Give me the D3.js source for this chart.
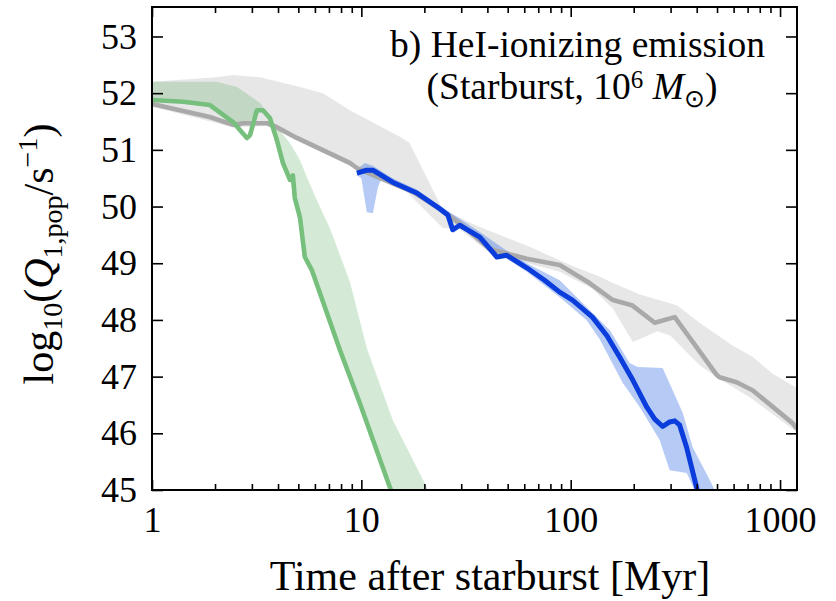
<!DOCTYPE html>
<html>
<head>
<meta charset="utf-8">
<script src="https://cdn.jsdelivr.net/npm/d3@7"></script>
<style>
  html, body { margin: 0; padding: 0; background: #fff; }
  svg text { font-family: "Liberation Serif", "Times New Roman", Times, serif; fill: #000; }
</style>
</head>
<body>
<svg id="chart" width="836" height="601"></svg>
<script>
// ---------- data (time in Myr, log10 Q) ----------
const xMajorTicks = [1, 10, 100, 1000];
const xMinorTicks = [2,3,4,5,6,7,8,9,20,30,40,50,60,70,80,90,200,300,400,500,600,700,800,900];
const yTicks = [45, 46, 47, 48, 49, 50, 51, 52, 53];

// gray (reference) model
const grayT    = [1, 1.36, 1.89, 2.44, 2.72, 3.54, 3.95, 4.92, 8.81, 9.52, 12.3, 17.6, 23.7, 29.5, 41.1, 61.7, 88.6, 123, 159, 196, 252, 314, 498, 514, 620, 739, 1147, 1205];
const grayV    = [51.81, 51.70, 51.58, 51.44, 51.47, 51.47, 51.40, 51.21, 50.77, 50.68, 50.50, 50.26, 49.96, 49.70, 49.25, 49.08, 48.97, 48.65, 48.35, 48.26, 47.95, 48.05, 47.03, 46.99, 46.90, 46.76, 46.18, 46.08];
const grayHiT  = [1, 2.04, 2.44, 3.28, 5.09, 6.55, 8.81, 15.27, 17.0, 24.5, 36.8, 63.7, 102, 138, 159, 214, 321, 413, 593, 739, 921, 1205];
const grayHiV  = [52.20, 52.28, 52.32, 52.28, 52.11, 52.00, 51.70, 51.23, 51.12, 49.94, 49.64, 49.29, 48.95, 48.76, 48.65, 48.45, 48.26, 47.95, 47.55, 47.35, 47.05, 46.80];
const grayLoT  = [1, 2.44, 3.54, 8.81, 15.3, 17.6, 24.5, 29.5, 41.1, 88.6, 127, 159, 198, 260, 300, 413, 498, 593, 739, 1205];
const grayLoV  = [51.76, 51.40, 51.42, 50.72, 50.38, 50.15, 49.62, 49.60, 49.18, 48.85, 48.55, 48.20, 47.61, 47.80, 47.72, 47.20, 46.99, 46.82, 46.60, 46.02];

// green model
const greenT   = [1, 1.41, 1.89, 2.44, 2.63, 2.84, 2.94, 3.17, 3.39, 3.66, 3.95, 4.22, 4.56, 4.71, 4.81, 5.09, 5.37, 5.80, 7.90, 9.84, 13.68, 15.0];
const greenV   = [51.88, 51.85, 51.79, 51.49, 51.35, 51.21, 51.26, 51.70, 51.70, 51.56, 51.17, 50.77, 50.47, 50.55, 50.15, 49.81, 49.11, 48.88, 47.47, 46.53, 45.05, 44.70];
const greenHiT = [1, 2.04, 2.55, 3.28, 3.95, 4.56, 5.09, 5.49, 6.13, 7.07, 8.81, 10.62, 14.14, 20.54, 22.0];
const greenHiV = [52.20, 52.20, 52.11, 51.83, 51.40, 51.12, 50.82, 50.52, 50.11, 49.62, 48.68, 47.50, 46.23, 45.05, 44.80];
const greenLoT = [1, 1.89, 2.44, 2.84, 3.17, 3.39, 3.66, 3.95, 4.22, 4.56, 5.09, 5.37, 5.80, 7.90, 9.84, 13.68, 15.0];
const greenLoV = [51.88, 51.79, 51.49, 51.44, 51.65, 51.68, 51.56, 51.17, 50.77, 50.47, 49.81, 49.11, 48.88, 47.47, 46.53, 45.05, 44.70];

// blue model
const blueT    = [9.52, 10.6, 11.4, 14.1, 18.4, 23.7, 25.9, 27.3, 29.5, 36.8, 44.4, 49.5, 61.7, 75, 88.6, 102, 127, 149, 171, 198, 231, 252, 275, 297, 314, 331, 358, 399, 420];
const blueV    = [50.59, 50.64, 50.64, 50.43, 50.24, 49.96, 49.85, 49.59, 49.67, 49.46, 49.11, 49.14, 48.92, 48.70, 48.49, 48.35, 48.05, 47.72, 47.35, 46.94, 46.46, 46.25, 46.12, 46.20, 46.22, 46.15, 45.75, 45.05, 44.70];
const blueHiT  = [9.52, 10.4, 11.35, 14.1, 18.4, 25.9, 36.8, 49.5, 61.7, 88.6, 119, 154, 191, 209, 275, 307, 343, 382, 461, 487];
const blueHiV  = [50.66, 50.77, 50.72, 50.50, 50.30, 49.92, 49.55, 49.22, 49.00, 48.70, 48.23, 47.82, 47.24, 47.17, 47.15, 46.76, 46.36, 45.76, 45.18, 45.00];
const blueLoT  = [9.52, 10.0, 10.62, 11.35, 12.0, 12.5, 14.1, 18.4, 25.9, 36.8, 49.5, 61.7, 88.6, 119, 138, 177, 214, 266, 297, 358, 391, 400];
const blueLoV  = [50.55, 50.50, 49.90, 49.88, 50.34, 50.50, 50.38, 50.19, 49.80, 49.40, 49.08, 48.85, 48.40, 48.00, 47.65, 46.89, 46.46, 45.88, 45.35, 45.30, 45.00, 44.90];

// ---------- layout ----------
const W = 836, H = 601;
const FONT = '"Liberation Serif", "Times New Roman", Times, serif';
const margin = { left: 152, top: 7, right: 39, bottom: 111 };
const iw = W - margin.left - margin.right;
const ih = H - margin.top - margin.bottom;

const svg = d3.select("#chart");
const g = svg.append("g").attr("transform", `translate(${margin.left},${margin.top})`);

const x = d3.scaleLog().domain([1, 1205]).range([0, iw]);
const y = d3.scaleLinear().domain([45, 53.52]).range([ih, 0]);

svg.append("defs").append("clipPath").attr("id", "clip")
  .append("rect").attr("width", iw).attr("height", ih);

const plot = g.append("g").attr("clip-path", "url(#clip)");

const zip = (ts, vs) => ts.map((t, i) => [t, vs[i]]);
const lineGen = d3.line().x(d => x(d[0])).y(d => y(d[1]));
const band = (hiT, hiV, loT, loV) => lineGen(zip(hiT, hiV).concat(zip(loT, loV).reverse())) + "Z";

// bands
plot.append("path").attr("d", band(grayHiT, grayHiV, grayLoT, grayLoV))
  .attr("fill", "rgb(160,160,160)").attr("fill-opacity", 0.25).attr("stroke", "none");
plot.append("path").attr("d", band(greenHiT, greenHiV, greenLoT, greenLoV))
  .attr("fill", "rgb(90,175,95)").attr("fill-opacity", 0.26).attr("stroke", "none");
plot.append("path").attr("d", band(blueHiT, blueHiV, blueLoT, blueLoV))
  .attr("fill", "rgb(40,100,230)").attr("fill-opacity", 0.34).attr("stroke", "none");

// lines
plot.append("path").attr("d", lineGen(zip(grayT, grayV)))
  .attr("fill", "none").attr("stroke", "#a9a9a9").attr("stroke-width", 4.6).attr("stroke-linejoin", "round");
plot.append("path").attr("d", lineGen(zip(greenT, greenV)))
  .attr("fill", "none").attr("stroke", "#76bf7c").attr("stroke-width", 4.6).attr("stroke-linejoin", "round");
plot.append("path").attr("d", lineGen(zip(blueT, blueV)))
  .attr("fill", "none").attr("stroke", "#0a3ddb").attr("stroke-width", 5).attr("stroke-linejoin", "round");

// ---------- axes ----------
const tickFont = 36;
const styleAxis = sel => {
  sel.attr("font-family", FONT);
  sel.select(".domain").remove();
  sel.selectAll(".tick line").attr("stroke", "#000").attr("stroke-width", 1.6);
  sel.selectAll("text").attr("font-family", FONT).style("font-family", FONT).style("font-size", tickFont + "px");
};

g.append("g").attr("transform", `translate(0,${ih})`)
  .call(d3.axisBottom(x).tickValues(xMajorTicks).tickFormat(d3.format("d")).tickSize(-10).tickPadding(16))
  .call(styleAxis);
g.append("g").attr("transform", `translate(0,${ih})`)
  .call(d3.axisBottom(x).tickValues(xMinorTicks).tickFormat("").tickSize(-6))
  .call(styleAxis);
g.append("g")
  .call(d3.axisTop(x).tickValues(xMajorTicks).tickFormat("").tickSize(-10))
  .call(styleAxis);
g.append("g")
  .call(d3.axisTop(x).tickValues(xMinorTicks).tickFormat("").tickSize(-6))
  .call(styleAxis);
g.append("g")
  .call(d3.axisLeft(y).tickValues(yTicks).tickFormat(d3.format("d")).tickSize(-11).tickPadding(15))
  .call(styleAxis);
g.append("g").attr("transform", `translate(${iw},0)`)
  .call(d3.axisRight(y).tickValues(yTicks).tickFormat("").tickSize(-11))
  .call(styleAxis);

// frame
g.append("rect").attr("width", iw).attr("height", ih)
  .attr("fill", "none").attr("stroke", "#000").attr("stroke-width", 2);

// ---------- titles ----------
svg.append("text").attr("x", 490).attr("y", 590)
  .attr("text-anchor", "middle").style("font-size", "42px").style("font-family", FONT)
  .text("Time after starburst [Myr]");

const yl = svg.append("text")
  .attr("transform", `translate(53,254) rotate(-90)`)
  .attr("text-anchor", "middle").style("font-size", "42px").style("font-family", FONT);
yl.append("tspan").text("log");
yl.append("tspan").attr("dy", 9).style("font-size", "28px").text("10");
yl.append("tspan").attr("dy", -9).text("(");
yl.append("tspan").style("font-style", "italic").text("Q");
yl.append("tspan").attr("dy", 9).style("font-size", "28px").text("1,pop");
yl.append("tspan").attr("dy", -9).text("/s");
yl.append("tspan").attr("dy", -16).style("font-size", "28px").text("−1");
yl.append("tspan").attr("dy", 16).text(")");

// annotation
svg.append("text").attr("x", 765).attr("y", 57).attr("text-anchor", "end")
  .style("font-size", "37.5px").style("font-family", FONT).text("b) HeI-ionizing emission");
const a2 = svg.append("text").attr("x", 572).attr("y", 99).attr("text-anchor", "middle")
  .style("font-size", "37.5px").style("font-family", FONT);
a2.append("tspan").text("(Starburst, 10");
a2.append("tspan").attr("dy", -11).style("font-size", "25px").text("6");
a2.append("tspan").attr("dy", 11).text(" ");
a2.append("tspan").style("font-style", "italic").text("M");
a2.append("tspan").attr("dy", 8).style("font-size", "25px").text("⊙");
a2.append("tspan").attr("dy", -8).text(")");
</script>
</body>
</html>
